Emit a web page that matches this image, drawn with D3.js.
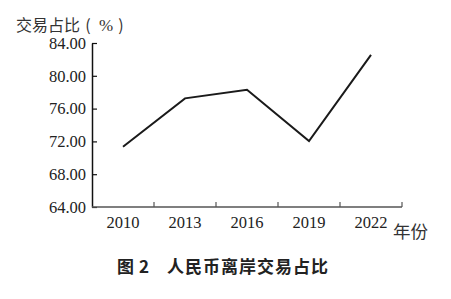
<!DOCTYPE html>
<html>
<head>
<meta charset="utf-8">
<script src="https://cdn.jsdelivr.net/npm/d3@7"></script>
<style>
  body { margin: 0; background: #fff; }
  svg { display: block; }
</style>
</head>
<body>
<div id="chart"></div>
<script>
const years = ['2010', '2013', '2016', '2019', '2022'];
const shares = [71.35, 77.25, 78.3, 72.05, 82.55];
const yTicks = [64, 68, 72, 76, 80, 84];

const width = 451;
const height = 299;
const margin = { left: 92, right: 49, top: 43, bottom: 92 };

const svg = d3.select('#chart')
    .append('svg')
    .attr('width', width)
    .attr('height', height);

const x = d3.scaleBand()
    .domain(years)
    .range([margin.left, width - margin.right]);

const y = d3.scaleLinear()
    .domain([64, 84])
    .range([height - margin.bottom, margin.top]);

const serif = '"Liberation Serif", "Times New Roman", serif';
const cjk = '"Noto Sans CJK SC", sans-serif';

// y axis, ticks pointing inward
const yAxis = svg.append('g')
    .attr('transform', `translate(${margin.left},0)`)
    .call(d3.axisLeft(y).tickValues(yTicks).tickSizeInner(-5).tickSizeOuter(0)
        .tickPadding(7).tickFormat(d3.format('.2f')));
yAxis.select('.domain').attr('stroke', '#111').attr('stroke-width', 1.5);
yAxis.selectAll('.tick line').attr('stroke', '#111').attr('stroke-width', 1.2);
yAxis.selectAll('.tick text')
    .attr('x', -6)
    .style('font-family', serif)
    .style('font-size', '16.5px')
    .attr('fill', '#222');

// x axis: ticks sit at band boundaries
const xAxis = svg.append('g')
    .attr('transform', `translate(0,${height - margin.bottom})`);
xAxis.append('line')
    .attr('x1', margin.left).attr('x2', width - margin.right)
    .attr('stroke', '#555').attr('stroke-width', 1.5);
xAxis.selectAll('.bound')
    .data(years)
    .enter().append('line')
    .attr('class', 'bound')
    .attr('x1', d => x(d) + x.bandwidth())
    .attr('x2', d => x(d) + x.bandwidth())
    .attr('y1', 0).attr('y2', -5)
    .attr('stroke', '#555').attr('stroke-width', 1.2);
xAxis.selectAll('.lbl')
    .data(years)
    .enter().append('text')
    .attr('class', 'lbl')
    .attr('x', d => x(d) + x.bandwidth() / 2)
    .attr('y', 21)
    .attr('text-anchor', 'middle')
    .style('font-family', serif)
    .style('font-size', '16.5px')
    .attr('fill', '#222')
    .text(d => d);

// line
const line = d3.line()
    .x((d, i) => x(years[i]) + x.bandwidth() / 2)
    .y(d => y(d));
svg.append('path')
    .datum(shares)
    .attr('d', line)
    .attr('fill', 'none')
    .attr('stroke', '#1a1a1a')
    .attr('stroke-width', 2);

// axis titles
const ttl = svg.append('g')
    .style('font-family', cjk)
    .style('font-size', '16px')
    .attr('fill', '#333');
ttl.append('text').attr('x', 16).attr('y', 31).text('交易占比');
ttl.append('text').attr('x', 88).attr('y', 31).attr('text-anchor', 'middle').text('(');
ttl.append('text').attr('x', 106).attr('y', 31).attr('text-anchor', 'middle')
    .style('font-family', serif).style('font-size', '17px').text('%');
ttl.append('text').attr('x', 121).attr('y', 31).attr('text-anchor', 'middle').text(')');

svg.append('text')
    .attr('x', 393).attr('y', 238)
    .style('font-family', cjk)
    .style('font-size', '17.5px')
    .attr('fill', '#333')
    .text('年份');

// caption
const cap = svg.append('g')
    .style('font-family', cjk)
    .style('font-size', '17px')
    .style('font-weight', 'bold')
    .attr('fill', '#222');
cap.append('text').attr('x', 117).attr('y', 273).text('图');
cap.append('text').attr('x', 139).attr('y', 273).text('2');
cap.append('text').attr('x', 167).attr('y', 273)
    .style('letter-spacing', '1px')
    .text('人民币离岸交易占比');
</script>
</body>
</html>
